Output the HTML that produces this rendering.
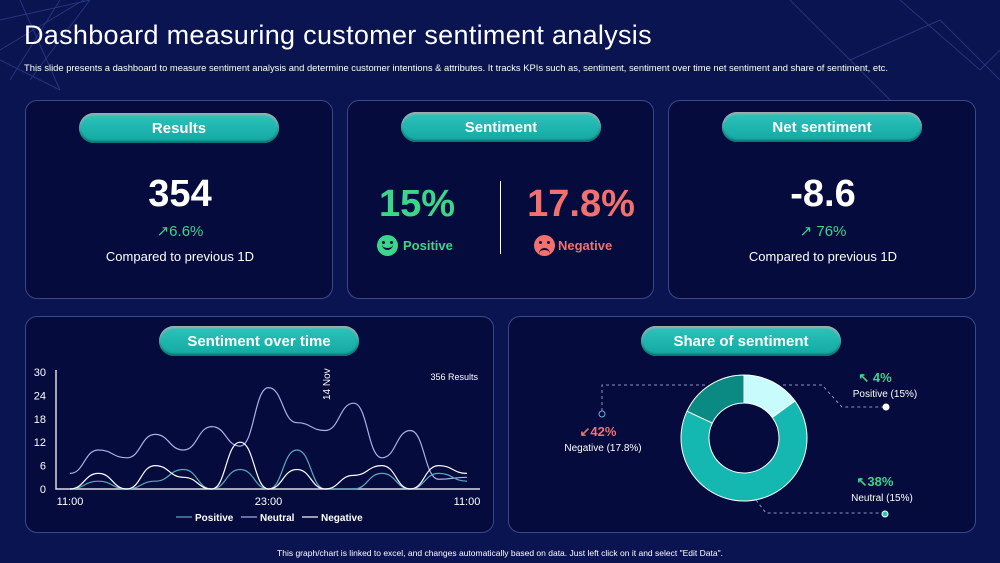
<!DOCTYPE html>
<html><head><meta charset="utf-8"><style>
body{margin:0;width:1000px;height:563px;overflow:hidden;background:#0a1450;font-family:"Liberation Sans",sans-serif;color:#fff;position:relative}
.card{position:absolute;background:#050b3c;border:1px solid #3a4888;border-radius:12px;box-sizing:border-box}
.pill{position:absolute;height:30px;border-radius:15px;background:linear-gradient(#2cc4bc,#13a8a2);box-shadow:0 2px 2px #aaa inset,0 -2px 2px #0a6f6b inset;font-weight:bold;font-size:15px;line-height:31px;text-align:center;color:#fff}
.abs{position:absolute}
.c{text-align:center}
</style></head><body>
<svg class="abs" style="left:0;top:0" width="1000" height="563">
<g stroke="#3a4a9a" stroke-width="1" fill="none" opacity="0.6">
<path d="M0 20 L90 0 M0 50 L92 -5 M20 0 L60 90 M60 0 L10 80 M0 60 L60 90 M30 80 L90 0"/>
<path d="M790 0 L850 60 L940 20 M850 60 L900 110 M900 0 L980 70 L1000 50 M940 20 L1000 80"/>
</g></svg>
<div class="abs" style="left:24px;top:20px;font-size:27px;letter-spacing:0.3px">Dashboard measuring customer sentiment analysis</div>
<div class="abs" style="left:24px;top:62px;font-size:9.4px">This slide presents a dashboard to measure sentiment analysis and determine customer intentions &amp; attributes. It tracks KPIs such as, sentiment, sentiment over time net sentiment and share of sentiment, etc.</div>

<div class="card" style="left:25px;top:100px;width:308px;height:199px">
<div class="pill" style="left:53px;top:12px;width:200px">Results</div>
<div class="abs c" style="left:0;width:308px;top:72px;font-size:38px;font-weight:bold">354</div>
<div class="abs c" style="left:0;width:308px;top:121px;font-size:15px;color:#3bd68a">↗6.6%</div>
<div class="abs c" style="left:0;width:308px;top:148px;font-size:13px">Compared to previous 1D</div>
</div>

<div class="card" style="left:347px;top:100px;width:307px;height:199px">
<div class="pill" style="left:53px;top:11px;width:200px">Sentiment</div>
<div class="abs c" style="left:0;width:138px;top:82px;font-size:38px;font-weight:bold;color:#3bd68a">15%</div>
<div class="abs" style="left:29px;top:134px;width:21px;height:21px;border-radius:50%;background:#3bd68a"><span class="abs" style="left:5px;top:6px;width:3px;height:3px;background:#050b3c;border-radius:50%"></span><span class="abs" style="left:13px;top:6px;width:3px;height:3px;background:#050b3c;border-radius:50%"></span><span class="abs" style="left:5px;top:9px;width:11px;height:6px;border-bottom:2px solid #050b3c;border-radius:0 0 6px 6px;box-sizing:border-box"></span></div>
<div class="abs" style="left:55px;top:137px;font-size:13px;color:#3bd68a;font-weight:bold">Positive</div>
<div class="abs" style="left:152px;top:80px;width:1px;height:73px;background:#fff"></div>
<div class="abs c" style="left:163px;width:140px;top:82px;font-size:38px;font-weight:bold;color:#f2716e">17.8%</div>
<div class="abs" style="left:186px;top:134px;width:21px;height:21px;border-radius:50%;background:#f2716e"><span class="abs" style="left:5px;top:6px;width:3px;height:3px;background:#050b3c;border-radius:50%"></span><span class="abs" style="left:13px;top:6px;width:3px;height:3px;background:#050b3c;border-radius:50%"></span><span class="abs" style="left:5px;top:13px;width:11px;height:6px;border-top:2px solid #050b3c;border-radius:6px 6px 0 0;box-sizing:border-box"></span></div>
<div class="abs" style="left:210px;top:137px;font-size:13px;color:#f2716e;font-weight:bold">Negative</div>
</div>

<div class="card" style="left:668px;top:100px;width:308px;height:199px">
<div class="pill" style="left:53px;top:11px;width:200px">Net sentiment</div>
<div class="abs c" style="left:0;width:308px;top:72px;font-size:38px;font-weight:bold">-8.6</div>
<div class="abs c" style="left:0;width:308px;top:121px;font-size:15px;color:#3bd68a">↗ 76%</div>
<div class="abs c" style="left:0;width:308px;top:148px;font-size:13px">Compared to previous 1D</div>
</div>

<div class="card" style="left:25px;top:316px;width:469px;height:217px">
<div class="pill" style="left:133px;top:9px;width:200px">Sentiment over time</div>
</div>
<div class="card" style="left:508px;top:316px;width:468px;height:217px">
<div class="pill" style="left:132px;top:9px;width:200px">Share of sentiment</div>
</div>

<svg id="line" class="abs" style="left:0;top:0" width="1000" height="563"></svg>
<svg id="donut" class="abs" style="left:0;top:0" width="1000" height="563"></svg>

<div class="abs c" style="left:0;width:1000px;top:548px;font-size:8.5px">This graph/chart is linked to excel, and changes automatically based on data. Just left click on it and select "Edit Data".</div>

<script>
const yTicks=[0,6,12,18,24,30];
const xLabels=["11:00","23:00","11:00"];
const neutral=[4,10,8,14,10,16,11,26,17,15,22,8,15,2.5,3];
const positive=[0,2,0,2,5,0,5,0,10,0,0,4,0,4,2];
const negative=[0,4,0,6,3,0,12,0,5,0,3.5,6,0,6,4];
const shareLabels=["Positive","Neutral","Negative"];
const shareValues=[15,67,18];

const NS="http://www.w3.org/2000/svg";
function mk(p,t,a){const e=document.createElementNS(NS,t);for(const k in a)e.setAttribute(k,a[k]);p.appendChild(e);return e;}
const L=document.getElementById('line');
const x0=70,x1=467,y0=489,y1=372;
const xs=i=>x0+(x1-x0)*i/(neutral.length-1);
const ys=v=>y0-(y0-y1)*v/30;
const ax=mk(L,'path',{d:`M56 ${y1-2} V${y0} H480`,stroke:'#ddd','stroke-width':1.5,fill:'none'});


yTicks.forEach(t=>{const e=mk(L,'text',{x:46,y:ys(t)+4,'text-anchor':'end','font-size':11,fill:'#fff'});e.textContent=t;

});
xLabels.forEach((t,i)=>{const e=mk(L,'text',{x:x0+(x1-x0)*i/2,y:505,'text-anchor':'middle','font-size':11,fill:'#fff'});e.textContent=t;

});
function smooth(arr){let d=`M${xs(0)} ${ys(arr[0])}`;for(let i=1;i<arr.length;i++){const xa=xs(i-1),xb=xs(i),m=(xb-xa)/2;d+=` C${xa+m} ${ys(arr[i-1])} ${xb-m} ${ys(arr[i])} ${xb} ${ys(arr[i])}`;}return d;}
[[neutral,'#aab0e8','neutral-line'],[positive,'#5aa8c0','positive-line'],[negative,'#ffffff','negative-line']].forEach(([a,c,n])=>{const p=mk(L,'path',{d:smooth(a),stroke:c,'stroke-width':1.2,fill:'none'});

});
const r=mk(L,'text',{x:478,y:380,'text-anchor':'end','font-size':9,fill:'#fff'});r.textContent='356 Results';


const nv=mk(L,'text',{x:0,y:0,'font-size':10,fill:'#fff',transform:'translate(330,400) rotate(-90)'});nv.textContent='14 Nov';


[['Positive','#5aa8c0',176],['Neutral','#aab0e8',241],['Negative','#fff',302]].forEach(([t,c,x])=>{mk(L,'line',{x1:x,x2:x+16,y1:517,y2:517,stroke:c,'stroke-width':1.2});const e=mk(L,'text',{x:x+19,y:521,'font-size':10,'font-weight':'bold',fill:'#fff'});e.textContent=t;

});

const D=document.getElementById('donut');
const cx=744,cy=438,R=63,ri=35;
const cols=['#c8fbfb','#14b8b0','#0b8a84'];
const tot=shareValues.reduce((a,b)=>a+b,0);let ang=-Math.PI/2;
shareValues.forEach((v,i)=>{const a2=ang+v/tot*2*Math.PI;const lg=a2-ang>Math.PI?1:0;
const P=(r,a)=>`${cx+r*Math.cos(a)} ${cy+r*Math.sin(a)}`;
const p=mk(D,'path',{d:`M${P(R,ang)} A${R} ${R} 0 ${lg} 1 ${P(R,a2)} L${P(ri,a2)} A${ri} ${ri} 0 ${lg} 0 ${P(ri,ang)}Z`,fill:cols[i],stroke:'#fff','stroke-width':1});


ang=a2;});
const dl=mk(D,'path',{d:'M602 411 V385 H708 M783 385 H822 L842 407 H886 M756 500 L766 513 H885',stroke:'#8a90c0','stroke-dasharray':'3 3',fill:'none'});


[[602,414,'#050b3c','#7ad'],[886,407,'#fff','#fff'],[885,514,'#2cc4bc','#fff']].forEach(([x,y,f,s])=>{const c=mk(D,'circle',{cx:x,cy:y,r:3,fill:f,stroke:s,'stroke-width':1});

});
[[598,436,'↙42%','#f2716e',13],[603,451,'Negative  (17.8%)','#fff',10],[875,382,'↖ 4%','#3bd68a',13],[885,397,'Positive (15%)','#fff',10],[875,486,'↖38%','#3bd68a',13],[882,501,'Neutral (15%)','#fff',10]].forEach(([x,y,t,c,s])=>{const e=mk(D,'text',{x,y,'text-anchor':'middle','font-size':s,fill:c,'font-weight':s>11?'bold':'normal'});e.textContent=t;

});
</script>
</body></html>
